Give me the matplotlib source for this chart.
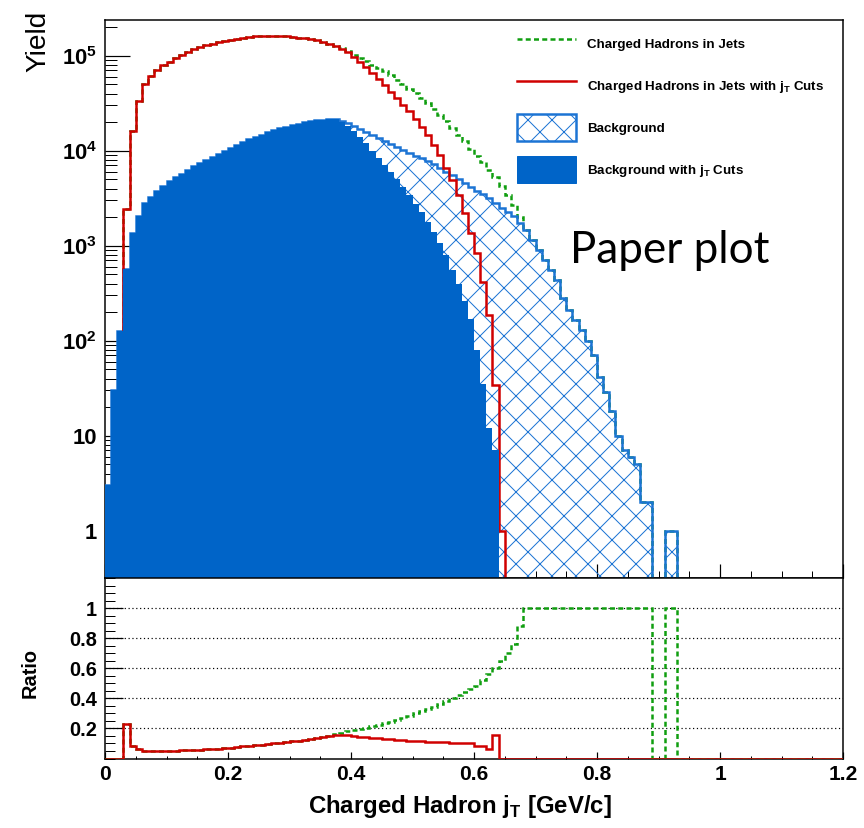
import numpy as np
import matplotlib
matplotlib.use("Agg")
import matplotlib.pyplot as plt
from matplotlib.patches import Patch
from matplotlib.lines import Line2D
from matplotlib.ticker import FixedLocator, NullFormatter

plt.rcParams['font.family'] = ['Liberation Sans', 'DejaVu Sans']
plt.rcParams['hatch.linewidth'] = 1.0

# ---------------- data (bin width 0.01 GeV/c, 0 - 1.2) ----------------
n_bins = 120
x_min, x_max = 0.0, 1.2

# Charged hadrons in jets with jT cuts (red), bins from 0.00
red_counts = [0, 0, 0, 2420, 16100, 33600, 50000, 61600, 71300, 79000,
              86500, 95200, 102600, 109000, 116700, 122500, 128700, 133700, 139300, 143900,
              147400, 151000, 154800, 157400, 160000, 161200, 162300, 162300, 161500, 160000,
              158000, 155500, 152500, 149000, 145000, 140000, 134000, 127000, 119000, 110000,
              98000, 87000, 76000, 65300, 57500, 49000, 41700, 35500, 30200, 26300,
              21400, 17800, 14600, 11500, 9000, 6600, 4900, 3400, 2200, 1350,
              830, 417, 186, 34, 1]

# Charged hadrons in jets (green), bins from 0.00
green_counts = red_counts[:38] + [
    120000, 111000,
    102000, 94400, 87100, 80400, 74100, 68400, 62400, 56200, 50700, 45200,
    40300, 35900, 31600, 27500, 24000, 20400, 17400, 14800, 12600, 10500,
    8900, 7600, 6300, 5250, 4270, 3390, 2690, 2000, 1460, 1150,
    910, 710, 550, 440, 280, 210, 166, 129, 100, 71,
    42, 29, 18, 10, 7, 6, 5, 2, 2, 0,
    0, 1, 1]

# Background with jT cuts (blue filled), bins from 0.00
bkg_cut_counts = [3, 30, 127, 570, 1350, 2040, 2800, 3230, 3800, 4250,
                  4800, 5350, 5700, 6300, 6900, 7400, 7900, 8650, 9230, 10000,
                  10700, 11500, 12300, 13200, 14100, 14800, 15700, 16600, 17400, 18000,
                  18600, 19300, 19950, 20400, 20900, 21100, 21400, 21400, 19900, 18200,
                  16200, 14100, 12000, 10000, 8300, 7100, 6000, 5000, 4200, 3400,
                  2750, 2240, 1780, 1410, 1070, 790, 560, 400, 263, 170,
                  79, 35, 12, 7]

# Background (blue hatched), bins from 0.00
bkg_counts = bkg_cut_counts[:38] + [
    20400, 19500,
    18200, 17000, 15800, 14600, 13500, 12600, 11700, 11000, 10200, 9550,
    8900, 8300, 7800, 7200, 6600, 6000, 5500, 5000, 4600, 4200,
    3800, 3470, 3160, 2820, 2510, 2290, 2040, 1740, 1460, 1150,
    910, 710, 550, 440, 280, 210, 166, 129, 100, 71,
    42, 29, 18, 10, 7, 6, 5, 2, 2, 0,
    0, 1, 1]

# Ratio: background with cuts / jets with cuts (red)
ratio_cut = [0, 0, 0, 0.229, 0.084, 0.060, 0.053, 0.050, 0.050, 0.051,
             0.052, 0.053, 0.054, 0.055, 0.057, 0.059, 0.061, 0.063, 0.066, 0.069,
             0.072, 0.076, 0.080, 0.084, 0.088, 0.092, 0.096, 0.100, 0.105, 0.109,
             0.114, 0.119, 0.124, 0.130, 0.136, 0.142, 0.150, 0.156, 0.158, 0.155,
             0.150, 0.146, 0.142, 0.138, 0.134, 0.131, 0.128, 0.125, 0.122, 0.119,
             0.117, 0.115, 0.113, 0.111, 0.109, 0.107, 0.105, 0.103, 0.102, 0.100,
             0.083, 0.083, 0.060, 0.155, 0]

# Ratio: background / jets (green)
ratio_all = ratio_cut[:37] + [
    0.16, 0.17, 0.18,
    0.19, 0.195, 0.205, 0.215, 0.225, 0.235, 0.245, 0.255, 0.27, 0.285,
    0.30, 0.315, 0.33, 0.345, 0.36, 0.38, 0.40, 0.42, 0.44, 0.46,
    0.48, 0.52, 0.56, 0.60, 0.65, 0.70, 0.76, 0.88, 1, 1,
    1, 1, 1, 1, 1, 1, 1, 1, 1, 1,
    1, 1, 1, 1, 1, 1, 1, 1, 1, 0,
    0, 1, 1]

legend_labels = ["Charged Hadrons in Jets",
                 "Charged Hadrons in Jets with j$_{\\mathregular{T}}$ Cuts",
                 "Background",
                 "Background with j$_{\\mathregular{T}}$ Cuts"]
y_tick_vals = [1, 10, 100, 1000, 10000, 100000]
y_tick_labels = ["1", "10", "10$^{\\mathregular{2}}$", "10$^{\\mathregular{3}}$",
                 "10$^{\\mathregular{4}}$", "10$^{\\mathregular{5}}$"]
x_tick_vals = [0, 0.2, 0.4, 0.6, 0.8, 1.0, 1.2]
x_tick_labels = ["0", "0.2", "0.4", "0.6", "0.8", "1", "1.2"]
r_tick_vals = [0.2, 0.4, 0.6, 0.8, 1.0]
r_tick_labels = ["0.2", "0.4", "0.6", "0.8", "1"]

# ---------------- helpers ----------------
edges = np.linspace(x_min, x_max, n_bins + 1)
FLOOR = 1e-3

def pad(v):
    a = np.zeros(n_bins)
    a[:len(v)] = v
    return a

def floored(v):
    a = pad(v)
    return np.where(a > 0, a, FLOOR)

BLUE = '#0064c8'
BLUE_H = '#1c74d4'
RED = '#d00000'
GREEN = '#109e10'
DASH = (0, (2.0, 1.3))

W, H = 864, 828
def rect(l, t, r, b):
    return [l / W, 1 - b / H, (r - l) / W, (b - t) / H]

fig = plt.figure(figsize=(W / 72, H / 72), dpi=72)
ax = fig.add_axes(rect(105, 20, 843, 578))
axr = fig.add_axes(rect(105, 578, 843, 758.5), sharex=ax)

# ---------------- upper panel ----------------
ax.set_yscale('log')
ax.stairs(floored(green_counts), edges, color=GREEN, lw=2.5, ls=DASH,
          baseline=None, zorder=2)
ax.stairs(floored(bkg_counts), edges, fill=True, facecolor='none',
          edgecolor=BLUE_H, hatch='x', lw=2.5, baseline=FLOOR, zorder=3)
ax.stairs(floored(red_counts), edges, color=RED, lw=2.5, baseline=None, zorder=4)
ax.stairs(floored(bkg_cut_counts), edges, fill=True, color=BLUE, lw=0,
          baseline=FLOOR, zorder=5)

ax.set_xlim(x_min, x_max)
ax.set_ylim(0.318, 2.38e5)
ax.yaxis.set_major_locator(FixedLocator(y_tick_vals))
ax.set_yticklabels(y_tick_labels)
minor_vals = [m * d for d in [0.1, 1, 10, 100, 1000, 10000, 100000]
              for m in range(2, 10)]
ax.yaxis.set_minor_locator(FixedLocator(minor_vals))
ax.yaxis.set_minor_formatter(NullFormatter())
ax.tick_params(axis='y', which='major', direction='in', length=25, width=1.2,
               labelsize=22, pad=8, right=False)
ax.tick_params(axis='y', which='minor', direction='in', length=12, width=1.0,
               right=False)
for lab in ax.get_yticklabels():
    lab.set_fontweight('bold')

ax.xaxis.set_major_locator(FixedLocator(x_tick_vals))
ax.xaxis.set_minor_locator(FixedLocator(list(np.round(np.arange(0, 1.2001, 0.05), 2))))
ax.tick_params(axis='x', which='major', direction='in', length=14, width=1.2,
               labelbottom=False, top=False)
ax.tick_params(axis='x', which='minor', direction='in', length=7, width=1.0, top=False)
for s in ax.spines.values():
    s.set_linewidth(1.5)

# legend
handles = [Line2D([], [], color=GREEN, lw=2.5, ls=DASH),
           Line2D([], [], color=RED, lw=2.5),
           Patch(facecolor='none', edgecolor=BLUE_H, hatch='x', lw=2.5),
           Patch(facecolor=BLUE, edgecolor=BLUE, lw=1)]
leg = fig.legend(handles, legend_labels, loc='upper left',
                 bbox_to_anchor=(517 / W, 1 - 30 / H), frameon=False,
                 prop={'weight': 'bold', 'size': 13.4}, handlelength=4.4,
                 handleheight=2.75, labelspacing=1.1, handletextpad=0.8,
                 borderpad=0, borderaxespad=0)

fig.text(570 / W, 1 - 263 / H, "Paper plot", fontsize=44, family='Lato',
         ha='left', va='baseline')

fig.text(38 / W, 1 - 41 / H, "Yield", rotation=90, fontsize=28,
         ha='center', va='center')

# ---------------- ratio panel ----------------
axr.stairs(pad(ratio_all), edges, color=GREEN, lw=2.5, ls=DASH, baseline=None, zorder=3)
axr.stairs(pad(ratio_cut), edges, color=RED, lw=2.5, baseline=None, zorder=4)
for v in r_tick_vals:
    axr.axhline(v, color='black', lw=1.2, ls=(0, (1, 2.2)), zorder=1)
axr.set_ylim(0, 1.2)
axr.set_xlim(x_min, x_max)
axr.yaxis.set_major_locator(FixedLocator(r_tick_vals))
axr.set_yticklabels(r_tick_labels)
axr.yaxis.set_minor_locator(FixedLocator(list(np.round(np.arange(0, 1.2001, 0.05), 2))))
axr.tick_params(axis='y', which='major', direction='in', length=18, width=1.2,
                labelsize=20, pad=8, right=False)
axr.tick_params(axis='y', which='minor', direction='in', length=10, width=1.0, right=False)
axr.xaxis.set_major_locator(FixedLocator(x_tick_vals))
axr.set_xticklabels(x_tick_labels)
axr.xaxis.set_minor_locator(FixedLocator(list(np.round(np.arange(0, 1.2001, 0.05), 2))))
axr.tick_params(axis='x', which='major', direction='in', length=7, width=1.2,
                labelsize=21, pad=7, top=False, labelbottom=True)
axr.tick_params(axis='x', which='minor', direction='in', length=3.5, width=1.0, top=False)
for lab in axr.get_yticklabels() + axr.get_xticklabels():
    lab.set_fontweight('bold')
for s in axr.spines.values():
    s.set_linewidth(1.5)

fig.text(30 / W, 1 - 673 / H, "Ratio", rotation=90, fontsize=20, fontweight='bold',
         ha='center', va='center')
fig.text(460 / W, 1 - 806 / H, "Charged Hadron j$_{\\mathregular{T}}$ [GeV/c]",
         fontsize=24, fontweight='bold', ha='center', va='center')

fig.savefig("out.png", dpi=72)
